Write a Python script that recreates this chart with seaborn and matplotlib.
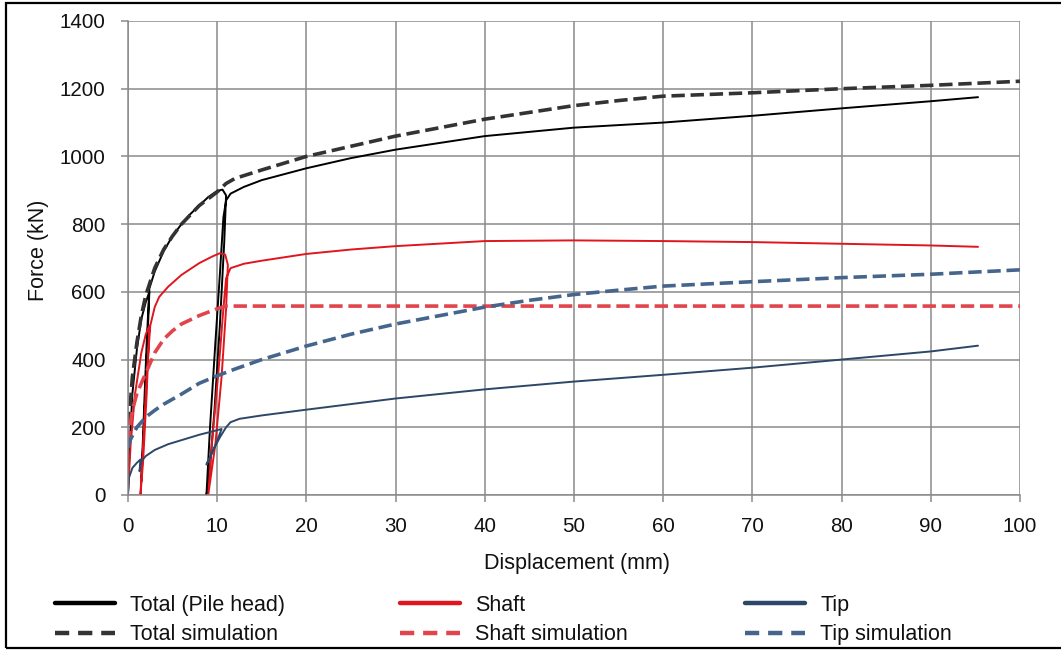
import matplotlib
matplotlib.use("Agg")
import matplotlib.pyplot as plt
from matplotlib.lines import Line2D
from matplotlib.patches import Rectangle
import seaborn as sns
import pandas as pd

# Measured load-displacement paths (with unload/reload loops), displacement in mm, force in kN
total_x = [0, 0.2, 0.5, 1.0, 1.5, 2.0, 2.4, 2.1, 1.8, 1.5, 1.8, 2.1, 2.4, 3.0, 4.0, 5.0, 6.0, 7.0, 8.0,
           9.0, 10.0, 10.6, 11.0, 10.8, 10.3, 9.7, 9.1, 8.8, 9.2, 9.8, 10.3, 10.7, 11.0, 11.5, 13, 15,
           20, 25, 30, 40, 50, 60, 70, 80, 90, 95.3]
total_y = [0, 150, 300, 430, 520, 570, 600, 400, 200, 40, 250, 450, 610, 660, 720, 765, 800, 830, 855,
           880, 898, 902, 885, 750, 500, 250, 50, 0, 200, 450, 650, 820, 870, 890, 910, 930,
           965, 995, 1020, 1060, 1085, 1100, 1120, 1142, 1163, 1175]

shaft_x = [0, 0.3, 0.8, 1.5, 2.0, 2.4, 2.1, 1.7, 1.4, 1.7, 2.1, 2.5, 3.0, 3.5, 4.5, 6, 8, 9.5, 10.3,
           10.9, 11.2, 11.0, 10.5, 9.8, 9.0, 9.4, 10.1, 10.7, 11.0, 11.5, 13, 15, 20, 25, 30, 40, 50,
           60, 70, 80, 90, 95.3]
shaft_y = [0, 150, 300, 420, 475, 500, 300, 100, 0, 150, 350, 500, 555, 585, 615, 650, 685, 705, 714,
           710, 680, 550, 350, 150, 0, 150, 350, 550, 640, 670, 683, 692, 712, 725, 735, 750, 752,
           750, 747, 742, 737, 733]

tip_x = [0, 0.1, 0.5, 1.0, 1.4, 1.3, 1.5, 2, 3, 4.5, 6, 8, 9.5, 10.5, 10.0, 9.2, 8.8, 9.5, 10.3, 11.0,
         11.5, 12.5, 15, 20, 30, 40, 50, 60, 70, 80, 90, 95.3]
tip_y = [0, 50, 80, 95, 105, 70, 100, 115, 133, 150, 162, 178, 188, 195, 160, 110, 90, 130, 170, 200,
         215, 225, 235, 252, 285, 312, 335, 355, 376, 400, 424, 441]

# Simulated curves
total_sim_x = [0, 0.2, 0.5, 1, 1.5, 2, 3, 4, 5, 6, 8, 10, 11, 12, 15, 20, 25, 30, 40, 50, 55, 60,
               70, 80, 90, 100]
total_sim_y = [150, 250, 350, 450, 530, 590, 670, 725, 765, 800, 855, 895, 920, 935, 960, 1000, 1030,
               1060, 1110, 1150, 1165, 1178, 1188, 1200, 1210, 1222]

shaft_sim_x = [0, 0.2, 0.5, 1, 2, 3, 4, 5, 6, 8, 10, 11, 100]
shaft_sim_y = [150, 200, 250, 300, 360, 420, 460, 485, 505, 530, 550, 558, 558]

tip_sim_x = [0, 0.3, 1, 2, 3, 4, 6, 8, 10, 12, 15, 20, 25, 30, 35, 40, 45, 50, 55, 60, 70, 80, 90, 100]
tip_sim_y = [140, 165, 200, 230, 250, 268, 298, 330, 352, 372, 400, 440, 475, 505, 530, 555, 575, 592,
             605, 617, 630, 642, 652, 665]

x_ticks = [0, 10, 20, 30, 40, 50, 60, 70, 80, 90, 100]
y_ticks = [0, 200, 400, 600, 800, 1000, 1200, 1400]

sns.set_theme(style="white")
plt.rcParams["font.family"] = ["Liberation Sans", "DejaVu Sans"]
TICK_FS = 14.8
LABEL_FS = 15.5
TEXT = "#111111"
GRID = "#8a8a8a"

fig = plt.figure(figsize=(10.61, 6.52), dpi=100)
ax = fig.add_axes([0.1206, 0.2408, 0.8407, 0.727])

BLACK = "#000000"
DGRAY = "#333333"
RED = "#e0161e"
RED_SIM = "#e2444c"
NAVY = "#2d4768"
NAVY_SIM = "#46658c"

series = [
    ("Total (Pile head)", total_x, total_y, BLACK, "-", 1.4),
    ("Shaft", shaft_x, shaft_y, RED, "-", 1.4),
    ("Tip", tip_x, tip_y, NAVY, "-", 1.4),
    ("Total simulation", total_sim_x, total_sim_y, DGRAY, "--", 2.6),
    ("Shaft simulation", shaft_sim_x, shaft_sim_y, RED_SIM, "--", 2.6),
    ("Tip simulation", tip_sim_x, tip_sim_y, NAVY_SIM, "--", 2.6),
]

for name, xs, ys, col, ls, lw in series:
    df = pd.DataFrame({"disp": xs, "force": ys})
    line_kw = dict(dashes=(3.6, 3.0)) if ls == "--" else {}
    sns.lineplot(data=df, x="disp", y="force", sort=False, estimator=None, color=col,
                 linestyle=ls, linewidth=lw, ax=ax, **line_kw)

ax.set_xlim(0, 100)
ax.set_ylim(0, 1400)
ax.set_xticks(x_ticks)
ax.set_yticks(y_ticks)
ax.grid(True, color=GRID, linewidth=1.1)
ax.set_axisbelow(True)
for s in ["top", "right"]:
    ax.spines[s].set_visible(False)
for s in ["left", "bottom"]:
    ax.spines[s].set_color(GRID)
    ax.spines[s].set_linewidth(1.1)
ax.tick_params(axis="both", direction="out", length=5, width=1.1, color=GRID,
               labelsize=TICK_FS, labelcolor=TEXT, left=True, bottom=True)
ax.tick_params(axis="y", pad=11)
ax.tick_params(axis="x", pad=11)
ax.set_xlabel("Displacement (mm)", fontsize=LABEL_FS, color=TEXT)
ax.set_ylabel("Force (kN)", fontsize=LABEL_FS, color=TEXT)
ax.xaxis.set_label_coords(0.503, -0.122)
ax.yaxis.set_label_coords(-0.088, 0.517)

# Legend: three columns, each holding a measured/simulated pair
dash_style = (0, (3.2, 2.0))
groups = [
    (55, [("Total (Pile head)", BLACK, "-"), ("Total simulation", DGRAY, dash_style)]),
    (400, [("Shaft", RED, "-"), ("Shaft simulation", RED_SIM, dash_style)]),
    (745, [("Tip", NAVY, "-"), ("Tip simulation", NAVY_SIM, dash_style)]),
]
for x0, entries in groups:
    hs = [Line2D([], [], color=c, lw=3.2, linestyle=st) for _, c, st in entries]
    lbls = [t for t, _, _ in entries]
    leg = fig.legend(hs, lbls, loc="center left", bbox_to_anchor=(x0 / 1061, 1 - 620 / 652),
                     frameon=False, fontsize=LABEL_FS, handlelength=2.8, handletextpad=0.7,
                     labelspacing=0.38, borderaxespad=0, borderpad=0)
    for t in leg.get_texts():
        t.set_color(TEXT)

fig.patches.append(Rectangle((6 / 1061, 4 / 652), 1.05, 645 / 652, transform=fig.transFigure,
                             fill=False, edgecolor="black", linewidth=1.6))

fig.savefig("out.png", dpi=100)
